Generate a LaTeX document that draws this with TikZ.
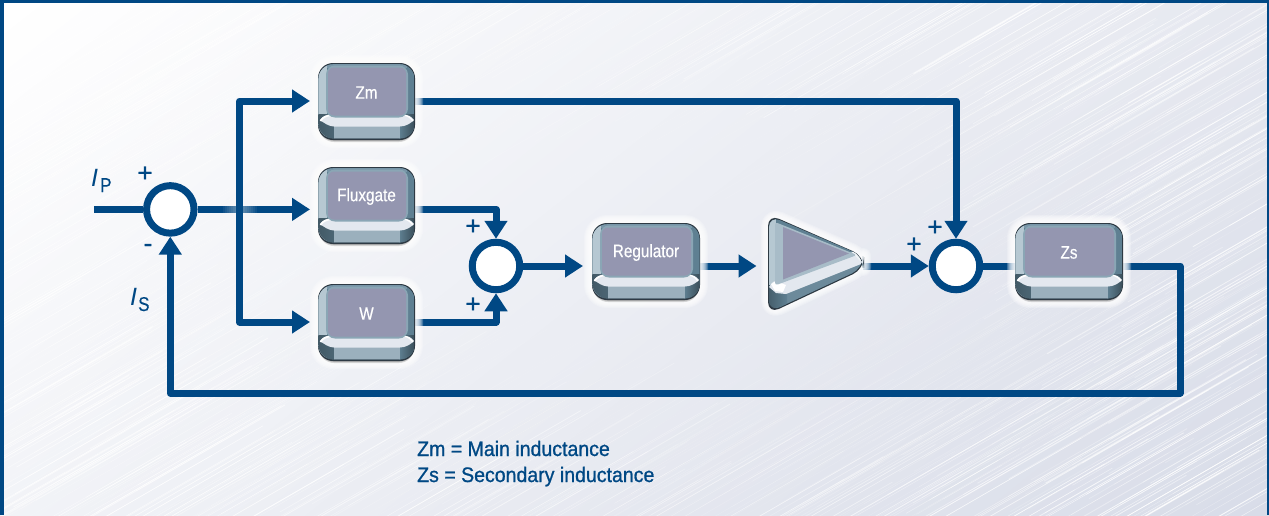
\documentclass[tikz,border=0pt]{standalone}
\usepackage{fontspec}
\setmainfont{Liberation Sans}
\newfontfamily\btnf[FakeStretch=0.85,FakeBold=0.45]{Liberation Sans}
\newfontfamily\capf[FakeStretch=0.93,FakeBold=0.9]{Liberation Sans}
\newfontfamily\subf[FakeStretch=0.85,FakeBold=0.2]{Liberation Sans}
\newfontfamily\signf[FakeBold=0.7]{Liberation Sans}
\usetikzlibrary{arrows.meta}
\definecolor{lineblue}{RGB}{0,72,132}
\definecolor{facec}{RGB}{148,150,176}
\definecolor{rimc}{RGB}{138,166,181}
\definecolor{basec}{RGB}{95,128,146}
\definecolor{lbev}{RGB}{182,200,210}
\definecolor{topb}{RGB}{120,150,168}
\definecolor{frontc}{RGB}{155,176,189}
\definecolor{lipc}{RGB}{227,232,239}
\definecolor{shadc}{RGB}{46,58,68}
\definecolor{bgend}{RGB}{216,220,232}
\definecolor{amprim}{RGB}{168,188,200}
\pgfdeclarelayer{bg}
\pgfsetlayers{bg,main}
\tikzset{
  conn/.style={draw=lineblue,line width=7pt,line join=round},
  arr/.style={conn,-{Triangle[length=18pt,width=22pt]}},
  sumnode/.style={circle,draw=lineblue,fill=white,line width=7pt,minimum size=47.5pt,inner sep=0pt},
  btntext/.style={text=white,inner sep=0pt,font=\btnf\fontsize{18}{20}\selectfont},
  lab/.style={text=lineblue,inner sep=0pt},
  signlab/.style={lab,font=\signf\fontsize{26}{27}\selectfont},
  caplab/.style={lab,anchor=base west,font=\capf\fontsize{21}{24}\selectfont},
  ilab/.style={lab,anchor=base west,font=\itshape\fontsize{25}{26}\selectfont},
  sublab/.style={lab,anchor=base west,font=\subf\fontsize{20}{21}\selectfont},
}
\newcommand{\btn}[6]{%
  \def\xa{#2}\def\ya{#3}\def\xb{#4}\def\yb{#5}%
  \foreach \n in {8,7,...,1}{
    \fill[white,opacity=.24,rounded corners={(15+\n)*1pt}] ({\xa-\n},{\ya-\n}) rectangle ({\xb+\n},{\yb+\n+1});
  }
  \foreach \n in {3,2,1}{
    \fill[black,opacity=.14,rounded corners=15pt] ({\xa+1},\ya+4) rectangle ({\xb-1},{\yb+\n});
  }
  \fill[shadc,rounded corners=15pt] (\xa,\ya) rectangle (\xb,\yb+1);
  \begin{scope}
    \clip[rounded corners=15pt] (\xa+.4,\ya+1.2) rectangle (\xb-.4,\yb-.6);
    \fill[basec] (\xa,\ya) rectangle (\xb,\yb);
    \fill[lbev] (\xa,\ya) rectangle (\xa+9,\yb);
    \fill[topb] (\xa+9,\ya) rectangle (\xb-8,\ya+5);
    \shade[left color=basec!70!black,middle color=frontc!90!basec,right color=basec!80!black] (\xa,\yb-25) rectangle (\xa+17,\yb);
    \shade[left color=basec,right color=basec!60!black] (\xb-16,\yb-25) rectangle (\xb,\yb);
    \fill[frontc] (\xa+16,\yb-13) rectangle (\xb-15,\yb);
    \fill[lipc] (\xa+2,\yb-19) .. controls (\xa+5,\yb-23) and (\xa+8,\yb-24) .. (\xa+13,\yb-24)
       -- (\xb-11,\yb-24) .. controls (\xb-7,\yb-24) and (\xb-4,\yb-23) .. (\xb-1,\yb-19)
       .. controls (\xb-4,\yb-16) and (\xb-9,\yb-12.5) .. (\xb-15,\yb-12.5)
       -- (\xa+16,\yb-12.5) .. controls (\xa+11,\yb-12.5) and (\xa+6,\yb-16) .. cycle;
    \draw[white,line width=1.8pt] (\xa+2.5,\yb-18) .. controls (\xa+5,\yb-22) and (\xa+8,\yb-23) .. (\xa+13,\yb-24);
    \draw[white,line width=1.3pt] (\xb-2,\yb-18) .. controls (\xb-5,\yb-22) and (\xb-7,\yb-23) .. (\xb-11,\yb-24);
  \end{scope}
  \fill[rimc,rounded corners=9pt] (\xa+8,\ya+2.5) rectangle (\xb-7,\yb-21.5);
  \fill[facec,rounded corners=6pt] (\xa+10,\ya+4.5) rectangle (\xb-9,\yb-23.5);
  \node[minimum width={(\xb-\xa)*1pt},minimum height={(\yb-\ya)*1pt},inner sep=0pt,outer sep=0pt] (#1) at ({(\xa+\xb)/2},{(\ya+\yb)/2}) {};
  \node[btntext] (#1-text) at ({(\xa+\xb)/2},{\ya+29.5}) {#6};
}
\begin{document}
\begin{tikzpicture}[x=1pt,y=-1pt]
\useasboundingbox (0,0) rectangle (1269,515);

%% nodes
\node[sumnode] (sumA) at (170.3,209.4) {};
\node[sumnode] (sumB) at (496,266) {};
\node[sumnode] (sumC) at (956,266) {};

\btn{zm}{318}{63}{415}{139}{Zm}
\btn{flux}{318}{167}{415}{243}{Fluxgate}
\btn{wb}{318}{284}{415}{360}{W}
\btn{reg}{592}{223}{700}{299}{Regulator}
\btn{zs}{1015}{223}{1123}{299}{Zs}

%% amplifier
\foreach \n in {8,7,...,1}{
  \draw[white,opacity=.24,line width={2*\n*1pt},line join=round,fill=none,rounded corners=12pt]
    (769,215) -- (863,256) -- (863,268) -- (769,312) -- cycle;
}
\fill[shadc,rounded corners=12pt] (768,214) -- (864,256) -- (864,269) -- (768,314) -- cycle;
\begin{scope}
  \clip[rounded corners=12pt] (769,215.5) -- (863,256) -- (863,268) -- (769,312) -- cycle;
  \fill[basec] (760,205) rectangle (870,320);
  \fill[lbev] (760,205) rectangle (776,290);
  \fill[basec!92!white] (775,290) -- (860,262) -- (870,270) -- (775,320) -- cycle;
  \shade[left color=basec!70!black,middle color=frontc,right color=basec] (766,285) rectangle (787,316);
  \fill[lipc] (769,287) -- (773,282) -- (858,250) -- (866,256) -- (866,262) -- (786,294) -- (776,293) -- cycle;
  \fill[white] (771,284) -- (776,281) -- (786,285) -- (783,292) -- (775,291) -- cycle;
  \fill[white!80!lbev] (852,252) -- (858,250) -- (865,257) -- (860,261) -- cycle;
\end{scope}
\fill[amprim,rounded corners=3pt] (775,222) -- (857,255) -- (775,285.5) -- cycle;
\node[inner sep=0pt,outer sep=0pt,minimum width=93pt,minimum height=89pt] (amp) at (816,262.5) {};
\fill[facec] (783,227) -- (849,253.5) -- (783,279.5) -- cycle;

%% connectors and background
\begin{pgfonlayer}{bg}
  \pgfmathsetseed{11}
  \fill[white] (0,0) rectangle (1269,515);
  \begin{scope}
    \clip (0,0) rectangle (1269,515);
    \foreach \i in {1,...,80}{
      \pgfmathsetmacro\mixv{100-\i*1.25}
      \pgfmathsetmacro\posv{\i*14.86}
      \fill[fill=white!\mixv!bgend,rotate around={-51.8:(0,0)}]
         (\posv,-1400) rectangle (2200,1600);
    }
    \foreach \i in {1,...,1300}{
      \pgfmathsetmacro\sx{rnd*1269}
      \pgfmathsetmacro\sy{rnd*515}
      \pgfmathsetmacro\sl{40+rnd*170}
      \pgfmathsetmacro\dd{((\sx-634)/634)^2+((\sy-257)/300)^2}
      \pgfmathsetmacro\op{min(.75,.04+.7*\dd*\dd)*(.2+.8*rnd)}
      \pgfmathsetmacro\lw{.4+rnd*.6}
      \draw[white,opacity=\op,line width=\lw pt]
        ({\sx-\sl*.866},{\sy+\sl*.5}) -- ({\sx+\sl*.866},{\sy-\sl*.5});
      \draw[white,opacity=\op,line width=.6pt]
        ({\sx-\sl*.45},{\sy+\sl*.26}) -- ({\sx+\sl*.45},{\sy-\sl*.26});
    }
  \end{scope}

  \coordinate (ipin) at (94,209.4);
  \coordinate (bus) at (239.5,209.4);
  \coordinate (fbA) at (1180,266);
  \coordinate (fbB) at (1180,393);

  \draw[conn] (ipin) -- (sumA.west);
  \draw[arr,shorten >=8pt] (sumA.east) -- (sumA.east -| flux.west);
  \foreach \n in {17,15,...,1}{
    \fill[white,opacity=.06] ({239.5-\n},205) rectangle ({239.5+\n},214);
  }
  \draw[arr,shorten >=8pt] (bus) |- (zm.west);
  \draw[arr,shorten >=8pt] (bus) |- (wb.west);
  \draw[arr] (zm.east) -| (sumC.north);
  \draw[arr] (flux.east |- sumA.east) -| (sumB.north);
  \draw[arr] (wb.east) -| (sumB.south);
  \draw[arr,shorten >=9pt] (sumB.east) -- (sumB.east -| reg.west);
  \draw[arr,shorten >=13pt] (reg.east |- sumB.east) -- (sumB.east -| amp.west);
  \draw[arr] (amp.east |- sumC.west) -- (sumC.west);
  \draw[conn] (sumC.east) -- (sumC.east -| zs.west);
  \draw[arr] (zs.east |- sumC.east) -- (fbA) -- (fbB) -| (sumA.south);
\end{pgfonlayer}

%% labels
\node[ilab] (lip) at (91,186) {I};
\node[sublab] (lips) at (100,192) {P};
\node[ilab] (lis) at (130,305) {I};
\node[sublab] (liss) at (138,311) {S};
\node[signlab] (pa) at (145,174) {+};
\node[signlab] (ma) at (148,248) {-};
\node[signlab] (pb) at (473,227) {+};
\node[signlab] (pc) at (473,305) {+};
\node[signlab] (pd) at (914,245) {+};
\node[signlab] (pe) at (935,228) {+};
\node[caplab] (capa) at (417,456) {Zm = Main inductance};
\node[caplab] (capb) at (417,482) {Zs = Secondary inductance};

%% frame
\fill[lineblue] (0,0) rectangle (1269,3);
\fill[lineblue] (0,0) rectangle (4,515);
\fill[lineblue] (1267,0) rectangle (1269,515);
\end{tikzpicture}
\end{document}
